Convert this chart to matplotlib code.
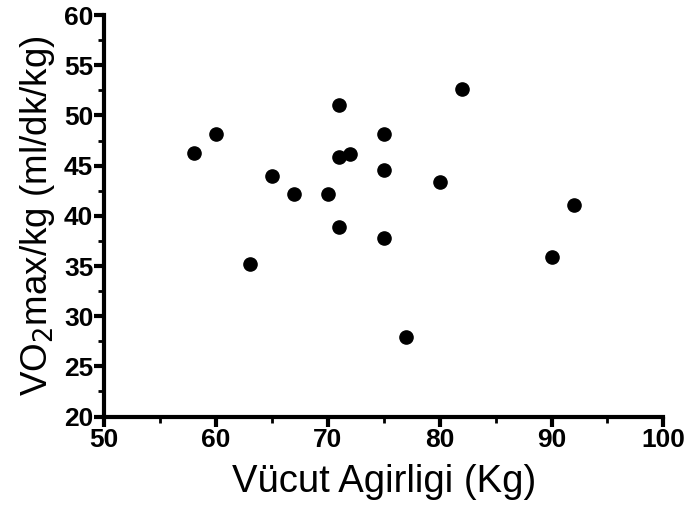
import matplotlib
matplotlib.use("Agg")
import matplotlib.pyplot as plt
from matplotlib.ticker import MultipleLocator

# body weight (kg) and VO2max/kg
weight = [58, 60, 63, 65, 67, 70, 71, 71, 71, 72, 75, 75, 75, 77, 80, 82, 90, 92]
vo2 = [46.3, 48.2, 35.2, 44.0, 42.2, 42.2, 51.0, 45.9, 38.9, 46.2,
       48.2, 44.6, 37.8, 27.9, 43.4, 52.6, 35.9, 41.1]

plt.rcParams['font.family'] = ['Liberation Sans', 'DejaVu Sans']

fig = plt.figure(figsize=(6.91, 5.22), dpi=100)
ax = fig.add_axes([0.151, 0.202, 0.809, 0.769])

ax.plot(weight, vo2, 'o', color='black', markersize=9.5, clip_on=False)

ax.set_xlim(50, 100)
ax.set_ylim(20, 60)
ax.xaxis.set_major_locator(MultipleLocator(10))
ax.xaxis.set_minor_locator(MultipleLocator(5))
ax.yaxis.set_major_locator(MultipleLocator(5))
ax.yaxis.set_minor_locator(MultipleLocator(2.5))

for s in ['top', 'right']:
    ax.spines[s].set_visible(False)
for s in ['left', 'bottom']:
    ax.spines[s].set_linewidth(3)

ax.tick_params(which='major', length=7, width=3, labelsize=19, pad=1)
ax.tick_params(which='minor', length=4, width=2)
for lab in ax.get_xticklabels() + ax.get_yticklabels():
    lab.set_fontweight('bold')

ax.set_xlabel('Vücut Agirligi (Kg)', fontsize=27.5, labelpad=9)
ax.set_ylabel('VO$_2$max/kg (ml/dk/kg)', fontsize=26.5, labelpad=5)

fig.savefig('out.png', dpi=100)
